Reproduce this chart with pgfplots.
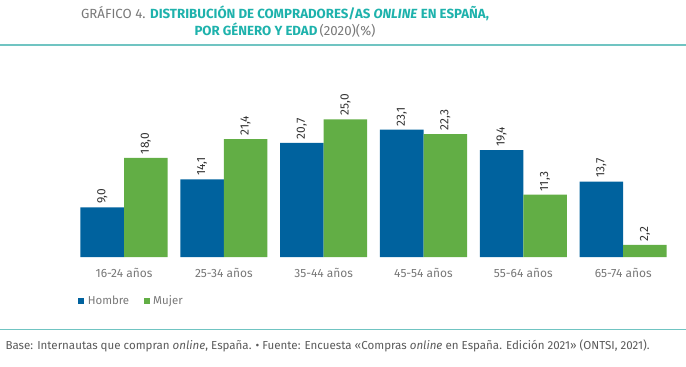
\documentclass[border=0pt]{standalone}
\usepackage{pgfplots}
\pgfplotsset{compat=1.18}
\usepackage{fontspec}
\setmainfont{Fira Sans}
\definecolor{hombre}{RGB}{0,98,158}
\definecolor{mujer}{RGB}{98,174,69}
\definecolor{teal}{RGB}{30,178,172}
\definecolor{tline}{RGB}{112,196,194}
\definecolor{gtext}{RGB}{120,120,120}
\definecolor{ftext}{RGB}{90,90,90}
\begin{document}
\begin{tikzpicture}[x=1bp,y=1bp]
\useasboundingbox (0,0) rectangle (686,366);
% title (y = 366 - pixel row)
\node[anchor=center,align=center] at (285,353) {\fontsize{13.3}{16}\selectfont\color{gtext}GRÁFICO 4. \textcolor{teal}{\bfseries DISTRIBUCIÓN DE COMPRADORES/AS \textit{ONLINE} EN ESPAÑA,}};
\node[anchor=center,align=center] at (285,336) {\fontsize{13.3}{16}\selectfont\textcolor{teal}{\bfseries POR GÉNERO Y EDAD}\,\textcolor{gtext}{(2020)(\%)}};
\fill[tline] (0,320) rectangle (686,322);
\fill[tline] (0,36) rectangle (686,37.5);
\node[anchor=west] at (2,20) {\fontsize{11.6}{13}\selectfont\color{ftext}Base: Internautas que compran \textit{online}, España. • Fuente: Encuesta «Compras \textit{online} en España. Edición 2021» (ONTSI, 2021).};
\begin{axis}[
  at={(124bp,109bp)}, anchor=origin,
  scale only axis, width=599bp, height=165.3bp,
  xmin=-0.5, xmax=5.5, ymin=0, ymax=30,
  ybar=0pt, bar width=0.436,
  axis x line=none, axis y line=none,
  clip=false,
  nodes near coords={\pgfmathprintnumber[fixed,fixed zerofill,precision=1,use comma,assume math mode=true]{\pgfplotspointmeta}},
  every node near coord/.append style={rotate=90, anchor=west, font=\fontsize{12}{13}\selectfont, text=black!80, inner sep=3.5bp},
  legend columns=2,
  legend style={at={(rel axis cs:0.0067,-0.266)}, anchor=west, draw=none, fill=none, font=\fontsize{11.5}{12}\selectfont\color{gtext}, inner sep=0pt, nodes={inner xsep=3.5bp, inner ysep=0pt}, /tikz/every even column/.append style={column sep=11bp}},
  legend image code/.code={\fill[#1] (0bp,-3bp) rectangle (6bp,3bp);},
]
\addplot[fill=hombre, draw=none] coordinates {(0,9.0) (1,14.1) (2,20.7) (3,23.1) (4,19.4) (5,13.7)};
\addplot[fill=mujer, draw=none] coordinates {(0,18.0) (1,21.4) (2,25.0) (3,22.3) (4,11.3) (5,2.2)};
\legend{Hombre,Mujer}
\foreach \i/\l in {0/16-24 años,1/25-34 años,2/35-44 años,3/45-54 años,4/55-64 años,5/65-74 años}{
  \edef\tmp{\noexpand\node[anchor=base, font=\noexpand\fontsize{12}{13}\noexpand\selectfont, text=gtext] at (axis cs:\i,0) [yshift=-20bp] {\l};}
  \tmp
}
\end{axis}
\end{tikzpicture}
\end{document}
